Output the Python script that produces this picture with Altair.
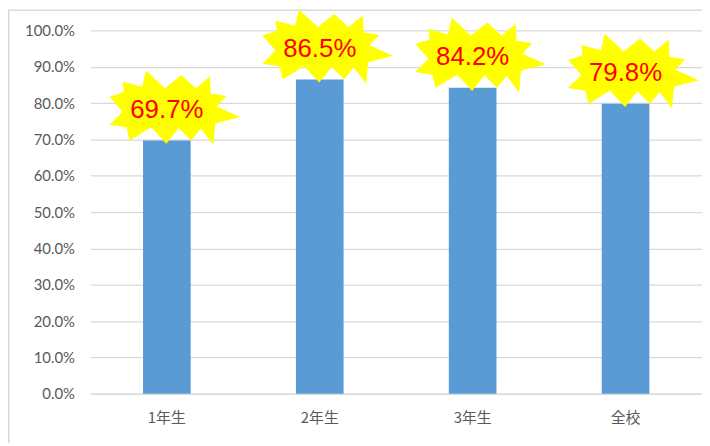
import altair as alt
import pandas as pd

categories = ["1年生", "2年生", "3年生", "全校"]
values = [0.697, 0.865, 0.842, 0.798]
labels = ["69.7%", "86.5%", "84.2%", "79.8%"]
tick_values = [0.0, 0.1, 0.2, 0.3, 0.4, 0.5, 0.6, 0.7, 0.8, 0.9, 1.0]

df = pd.DataFrame({"cat": categories, "value": values, "label": labels})

star_pts = [
    (-0.44, -0.57), (-0.15, -0.30), (0.10, -0.50), (0.32, -0.30),
    (0.54, -0.48), (0.55, -0.22), (0.79, -0.18), (0.64, -0.02),
    (1.00, 0.14), (0.62, 0.24), (0.59, 0.57), (0.40, 0.32),
    (0.25, 0.50), (0.06, 0.31), (-0.13, 0.55), (-0.36, 0.30),
    (-0.69, 0.50), (-0.74, 0.30), (-1.00, 0.26), (-0.80, 0.06),
    (-1.00, -0.17), (-0.78, -0.24), (-0.80, -0.40), (-0.50, -0.32),
]
star_path = "M " + " L ".join(f"{x} {y}" for x, y in star_pts) + " Z"

x_enc = alt.X(
    "cat:N",
    sort=categories,
    scale=alt.Scale(paddingInner=0, paddingOuter=0),
    axis=alt.Axis(
        title=None, labelAngle=0, ticks=False, domain=True,
        domainColor="#D9D9D9", domainWidth=1.5,
        labelFont="Noto Sans CJK JP", labelFontSize=15, labelColor="#595959",
        labelPadding=17,
    ),
)
y_enc = alt.Y(
    "value:Q",
    scale=alt.Scale(domain=[0, 1]),
    axis=alt.Axis(
        title=None, values=tick_values, format=".1%", ticks=False, domain=False,
        grid=True, gridColor="#D9D9D9", gridWidth=1.3,
        labelFont="Lato", labelFontSize=15, labelColor="#595959",
        labelPadding=16,
    ),
)

base = alt.Chart(df).encode(x=x_enc, y=y_enc)

bars = base.mark_bar(size=48, color="#5B9BD5")
stars = base.mark_point(
    shape=star_path, size=17300, filled=True, fill="#FFFF00",
    opacity=1, strokeWidth=0, xOffset=8, yOffset=-33,
)
texts = base.mark_text(
    font="Liberation Sans", fontSize=26, color="#FF0000",
    baseline="middle", align="center", dy=-31,
).encode(text="label:N")

frame = alt.Chart(pd.DataFrame({"a": [0]})).mark_rect(
    fillOpacity=0, stroke="#D9D9D9", strokeWidth=1.5,
).encode(
    x=alt.value(-82.25), x2=alt.value(800),
    y=alt.value(-20.25), y2=alt.value(600),
)

chart = alt.layer(frame, bars, stars, texts).properties(
    width=616, height=366,
    padding={"left": 83, "top": 21, "right": 0, "bottom": 48},
    autosize=alt.AutoSizeParams(type="none"),
).configure_view(stroke=None)

chart.save("out.html", embed_options={"renderer": "svg", "actions": False})
